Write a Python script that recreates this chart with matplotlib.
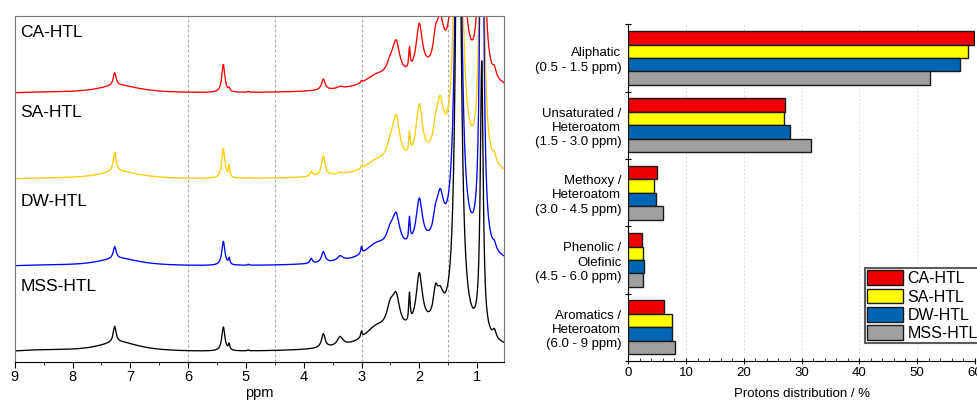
import numpy as np
import matplotlib
matplotlib.use("Agg")
import matplotlib.pyplot as plt
from matplotlib.ticker import MultipleLocator, FixedLocator, NullFormatter

plt.rcParams['font.family'] = ['Liberation Sans', 'DejaVu Sans']

# ---- 1H NMR spectra, described as peak tables ----
# (centre / ppm, half width / ppm), shared by all samples
peak_ppm = [8.50, 7.20, 7.27, 5.39, 5.29, 4.96, 3.87, 3.66, 3.37, 3.00,
            2.75, 2.50, 2.40, 2.17, 2.00, 1.72, 1.64, 1.325, 0.92, 0.70, 1.80]
peak_hw = [0.60, 0.45, 0.03, 0.032, 0.015, 0.012, 0.025, 0.038, 0.06, 0.015,
           0.25, 0.08, 0.075, 0.014, 0.065, 0.045, 0.075, 0.05, 0.03, 0.035, 0.80]

# peak heights per sample (pixel-like units)
h_mss = [2, 10, 16, 24, 6, 1, 0, 14, 9, 6,
         15, 22, 31, 28, 53, 24, 24, 600, 273, 8, 20]
h_dw = [1, 8, 12, 24, 6, 1, 5, 11, 5, 7,
        14, 15, 31, 23, 46, 15, 42, 600, 600, 6, 15]
h_sa = [1, 8, 19, 30, 11, 1, 5, 20, 2, 3,
        10, 15, 43, 20, 53, 15, 48, 600, 600, 8, 15]
h_ca = [1, 8, 13, 28, 3, 1, 0, 11, 2, 2,
        10, 12, 33, 20, 48, 20, 43, 600, 600, 8, 15]

spec_names = ['CA-HTL', 'SA-HTL', 'DW-HTL', 'MSS-HTL']
spec_heights = [h_ca, h_sa, h_dw, h_mss]
spec_offsets = [268, 182, 95, 9]
spec_colors = ['#ff0000', '#ffcc00', '#0000ff', '#000000']
label_y = [0.95, 0.719, 0.463, 0.217]
region_lines = [6.0, 4.5, 3.0, 1.5]

# ---- proton distribution (%) ----
regions = ['Aliphatic\n(0.5 - 1.5 ppm)',
           'Unsaturated /\nHeteroatom\n(1.5 - 3.0 ppm)',
           'Methoxy /\nHeteroatom\n(3.0 - 4.5 ppm)',
           'Phenolic /\nOlefinic\n(4.5 - 6.0 ppm)',
           'Aromatics /\nHeteroatom\n(6.0 - 9 ppm)']
ca_htl = [59.8, 27.2, 5.0, 2.3, 6.2]
sa_htl = [58.8, 27.0, 4.45, 2.5, 7.6]
dw_htl = [57.4, 28.0, 4.85, 2.7, 7.5]
mss_htl = [52.3, 31.6, 5.95, 2.6, 8.15]
bar_series = [ca_htl, sa_htl, dw_htl, mss_htl]
bar_colors = ['#ee0000', '#ffff00', '#0066b3', '#a0a0a0']


def spectrum(ppm, heights):
    y = np.zeros_like(ppm)
    for c, w, h in zip(peak_ppm, peak_hw, heights):
        y += h * w**2 / ((ppm - c)**2 + w**2)
    return y


fig = plt.figure(figsize=(9.78, 4.01), dpi=100)

# ---------------- left: spectra ----------------
ax1 = fig.add_axes([14.7/978, 39/401, 489.3/978, 346.4/401])
ppm = np.linspace(0.5, 9.0, 6000)
for h, off, col in zip(spec_heights, spec_offsets, spec_colors):
    ax1.plot(ppm, off + spectrum(ppm, h), color=col, lw=0.95)
for x in region_lines:
    ax1.axvline(x, color='#aaaaaa', lw=0.8, ls=(0, (2.5, 2)), zorder=0)
for name, yy in zip(spec_names, label_y):
    ax1.text(0.012, yy, name, transform=ax1.transAxes, fontsize=12.5,
             va='center', ha='left')

ax1.set_xlim(9, 0.535)
ax1.set_ylim(0, 346.4)
ax1.set_yticks([])
ax1.xaxis.set_major_locator(MultipleLocator(1))
ax1.xaxis.set_minor_locator(MultipleLocator(0.5))
ax1.tick_params(axis='x', which='major', direction='out', length=4,
                labelsize=10.5, pad=2)
ax1.tick_params(axis='x', which='minor', direction='out', length=2)
ax1.set_xlabel('ppm', fontsize=10.5, labelpad=1)
for s in ['top', 'left', 'right']:
    ax1.spines[s].set_color('#777777')
ax1.spines['bottom'].set_color('black')

# ---------------- right: bar chart ----------------
ax2 = fig.add_axes([628.3/978, 40/401, 346.5/978, 336.7/401])
ypos = np.arange(len(regions))
for k, (vals, col, name) in enumerate(zip(bar_series, bar_colors, spec_names)):
    ax2.barh(ypos - 0.3 + 0.2 * k, vals, height=0.2, color=col,
             edgecolor='#1a1a1a', linewidth=1.0, label=name, zorder=3)

ax2.set_ylim(4.5, -0.5)
ax2.set_xlim(0, 60)
ax2.yaxis.set_major_locator(FixedLocator(np.arange(-0.5, 5.0, 1.0)))
ax2.yaxis.set_major_formatter(NullFormatter())
ax2.yaxis.set_minor_locator(FixedLocator(ypos))
ax2.set_yticklabels(regions, minor=True, fontsize=9.5, linespacing=1.25)
ax2.tick_params(axis='y', which='major', direction='inout', length=5)
ax2.tick_params(axis='y', which='minor', length=0, pad=5)
ax2.xaxis.set_major_locator(MultipleLocator(10))
ax2.xaxis.set_minor_locator(MultipleLocator(2))
ax2.tick_params(axis='x', which='major', direction='inout', length=5,
                labelsize=9.5, pad=2)
ax2.tick_params(axis='x', which='minor', direction='in', length=2.5)
ax2.grid(axis='x', color='#dddddd', lw=0.7, ls=(0, (2, 2)), zorder=0)
ax2.set_xlabel('Protons distribution / %', fontsize=9.5, labelpad=6)
for s in ['top', 'right']:
    ax2.spines[s].set_visible(False)

leg = ax2.legend(loc='upper left', bbox_to_anchor=(865/978, 1 - 268/401),
                 bbox_transform=fig.transFigure, fontsize=11.5, frameon=True,
                 fancybox=False, handlelength=2.2, handleheight=1.05,
                 labelspacing=0.15, handletextpad=0.3, borderpad=0.15,
                 borderaxespad=0)
leg.get_frame().set_edgecolor('#333333')
leg.get_frame().set_linewidth(1.5)

fig.savefig('out.png', dpi=100)
